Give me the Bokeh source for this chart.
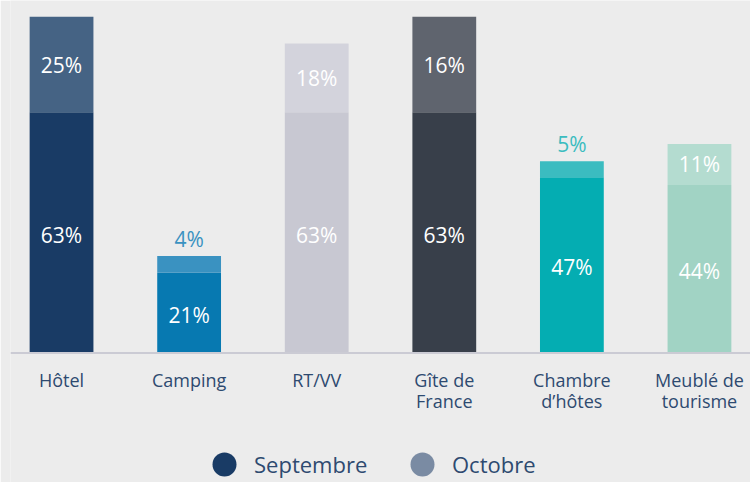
from bokeh.plotting import figure
from bokeh.models import ColumnDataSource, Range1d, Span, Legend, LegendItem
from bokeh.core.properties import value
from bokeh.embed import file_html
from bokeh.resources import INLINE

categories = ["Hôtel", "Camping", "RT/VV", "Gîte de\nFrance", "Chambre\nd’hôtes", "Meublé de\ntourisme"]
septembre = [63, 21, 63, 63, 46, 44]
octobre = [25, 4.4, 18, 25, 4.2, 10.7]
sep_labels = ["63%", "21%", "63%", "63%", "47%", "44%"]
oct_labels = ["25%", "4%", "18%", "16%", "5%", "11%"]
sep_colors = ["#193b65", "#0779b1", "#c8c8d2", "#383f4a", "#04adb2", "#a1d3c4"]
oct_colors = ["#456384", "#3a92c1", "#d3d3dc", "#5f646e", "#3bbcc0", "#b4dcd0"]
legend_labels = ["Septembre", "Octobre"]
legend_colors = ["#193b65", "#7a8ba3"]

FONT = "Open Sans"
TEXT_COLOR = "#2e4a70"
BG = "#ececec"

xs = list(range(len(categories)))
tops = [s + o for s, o in zip(septembre, octobre)]

src = ColumnDataSource(dict(
    x=xs, sep=septembre, top=tops,
    sep_mid=[s / 2 for s in septembre],
    sep_lab=sep_labels,
    sep_col=sep_colors, oct_col=oct_colors,
    cat=categories, zero=[0] * len(xs),
))

inside = [i for i, o in enumerate(octobre) if o >= 6]
outside = [i for i, o in enumerate(octobre) if o < 6]
src_in = ColumnDataSource(dict(
    x=[xs[i] for i in inside],
    y=[septembre[i] + octobre[i] / 2 for i in inside],
    t=[oct_labels[i] for i in inside],
))
src_out = ColumnDataSource(dict(
    x=[xs[i] for i in outside],
    y=[tops[i] for i in outside],
    t=[oct_labels[i] for i in outside],
    c=[oct_colors[i] for i in outside],
))

p = figure(width=750, height=482, output_backend="svg", toolbar_location=None,
           x_range=Range1d(-0.4, 5.4), y_range=Range1d(-33.9, 92.28),
           min_border_left=10, min_border_right=0, min_border_top=0, min_border_bottom=0)
p.background_fill_color = BG
p.border_fill_color = BG
p.outline_line_color = None
p.xaxis.visible = False
p.yaxis.visible = False
p.grid.visible = False

p.vbar(x="x", bottom=0, top="sep", width=0.5, fill_color="sep_col", line_color=None, source=src)
p.vbar(x="x", bottom="sep", top="top", width=0.5, fill_color="oct_col", line_color=None, source=src)

p.add_layout(Span(location=0, dimension="width", line_color="#cbcbd4", line_width=2))

p.text(x="x", y="sep_mid", text="sep_lab", source=src, text_color="white",
       text_font=value(FONT), text_font_size="21px", text_align="center",
       text_baseline="middle", y_offset=2)
p.text(x="x", y="y", text="t", source=src_in, text_color="white",
       text_font=value(FONT), text_font_size="21px", text_align="center",
       text_baseline="middle")
p.text(x="x", y="y", text="t", source=src_out, text_color="c",
       text_font=value(FONT), text_font_size="21px", text_align="center",
       text_baseline="bottom", y_offset=-3)

p.text(x="x", y="zero", text="cat", source=src, text_color=TEXT_COLOR,
       text_font=value(FONT), text_font_size="18px", text_align="center",
       text_baseline="top", y_offset=15, text_line_height=0.86)

items = []
for lab, col in zip(legend_labels, legend_colors):
    r = p.scatter(x=[float("nan")], y=[float("nan")], marker="circle", size=10,
                  fill_color=col, line_color=None)
    items.append(LegendItem(label=lab, renderers=[r]))

legend = Legend(items=items, orientation="horizontal", location=(184, -12),
                glyph_width=60, glyph_height=60, label_standoff=0,
                label_width=127, spacing=11, padding=0, margin=0,
                label_text_font=FONT, label_text_font_size="22px",
                label_text_color=TEXT_COLOR,
                background_fill_alpha=0, border_line_color=None)
p.add_layout(legend)

open("out.html", "w").write(file_html(p, INLINE))
